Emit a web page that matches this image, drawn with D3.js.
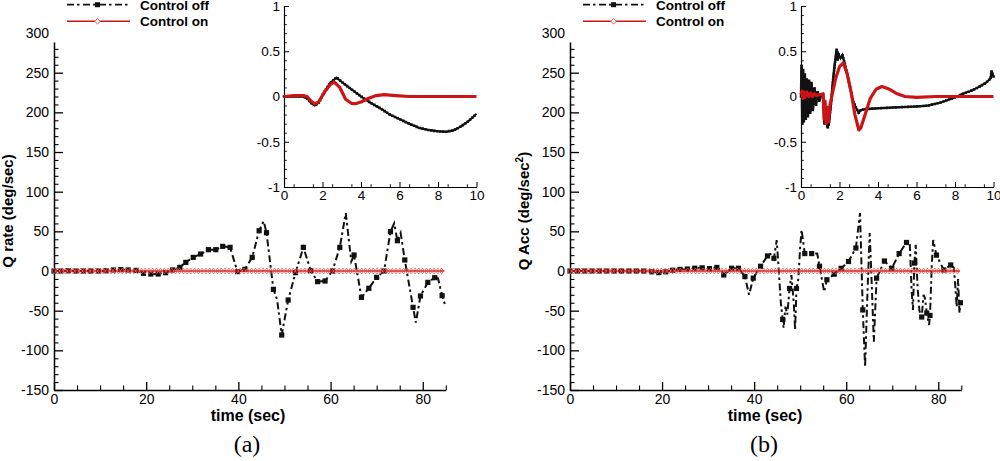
<!DOCTYPE html>
<html>
<head>
<meta charset="utf-8">
<script src="https://cdn.jsdelivr.net/npm/d3@7"></script>
<style>
  body { margin: 0; background: #fff; }
  text { fill: #000; }
</style>
</head>
<body>
<svg id="chart" width="1000" height="461"></svg>
<script>
// ---- data ----
var timeTicks = [0, 20, 40, 60, 80];
var mainYTicks = [-150, -100, -50, 0, 50, 100, 150, 200, 250, 300];
var insetXTicks = [0, 2, 4, 6, 8, 10];
var insetYTicks = [-1, -0.5, 0, 0.5, 1];
var legendLabels = ["Control off", "Control on"];
var panelTags = ["(a)", "(b)"];

// [time, value, marker shown]
var qRateOff = [[0,0,1],[1.5,0,1],[3.1,0.3,1],[4.8,0,1],[6.4,0,1],[8.0,0,1],[9.7,0,1],[11.3,0.3,1],
  [12.9,1.3,1],[14.5,1.7,1],[16.1,1.3,1],[17.8,0.8,1],[19.4,-2.9,1],[21.0,-3.8,1],[22.6,-3.8,1],
  [24.2,-2.1,1],[25.7,1.3,1],[27.3,4.6,1],[28.6,10.9,1],[30.2,17.2,1],[31.8,21.4,1],[33.5,26.9,1],
  [35.1,26.9,1],[36.6,31.1,1],[38.2,29.8,1],[39.8,-0.8,1],[41.4,2.1,1],[43.0,17.2,1],[44.5,50.8,1],
  [45.5,63,0],[46.1,48.3,1],[47.6,-23.1,1],[48.4,-36,0],[49.4,-80.7,1],[50.8,-36.6,1],[52.4,-2.1,1],
  [54.1,29.8,1],[55.7,0.5,1],[57.2,-13.4,1],[58.8,-12.6,1],[60.4,0,1],[62.0,29.8,1],[63.3,73,0],
  [64.5,12,0],[65.1,20.2,1],[66.7,-33.2,1],[68.3,-21.8,1],[70.0,-8,1],[71.6,0,1],[73.0,49.6,1],
  [73.8,60,0],[74.5,38.2,1],[75.2,48,0],[76.1,13.9,1],[77.9,-45.8,1],[78.5,-65,0],[79.5,-31.5,1],
  [81.1,-14.3,1],[82.6,-8.4,1],[83.3,-9,0],[84.2,-31.1,1],[84.8,-42,0]];
var qRateOn = [[0,0],[84.7,0]];

var qAccOff = [[0,0,1],[1.6,0,1],[3.2,0,1],[4.8,0,1],[6.4,0,1],[8.0,0,1],[9.6,0,1],[11.2,0,1],
  [12.8,0,1],[14.4,0,1],[16.0,0,1],[17.7,-1,1],[19.3,-2,1],[20.8,-1,1],[22.3,1,1],[23.9,2,1],
  [25.5,2.5,1],[27.1,3.5,1],[28.7,4,1],[30.3,3,1],[31.9,4.5,1],[33.0,0,0],[33.4,-5,1],[35.1,3.5,1],
  [36.6,3.5,1],[38.0,-7,1],[38.9,-30,0],[39.8,-9,1],[41.4,6,1],[42.9,19,1],[43.8,22,0],[44.3,16,1],
  [44.9,39,0],[45.3,5,0],[45.8,-40,0],[46.2,-61,1],[46.4,-72,0],[46.8,-45,0],[47.2,-55,0],[47.7,-22,1],
  [48.1,-5,0],[48.6,-40,0],[48.9,-74,0],[49.2,-22,1],[49.6,-10,0],[50.0,30,0],[50.3,52,0],[51.0,22,1],
  [52.5,22,1],[53.7,22,0],[54.2,6,1],[55.2,-26,0],[55.8,-11,1],[57.4,-4,1],[58.9,3.4,1],[60.5,12,1],
  [62.1,29,1],[63.0,73,0],[63.6,-49,1],[64.1,-121,0],[64.6,-30,0],[65.1,48,0],[65.5,-10,0],[66.0,-89,0],
  [66.6,-9,1],[68.3,12.6,1],[69.9,3.4,1],[71.5,22,1],[73.1,36,1],[73.8,36,0],[74.2,-24,0],[74.5,-49,0],
  [74.8,10,1],[75.1,33,0],[75.5,-20,0],[75.9,-50,0],[76.4,-58,1],[76.8,-30,0],[77.1,-34,0],[77.5,-53,1],
  [78.0,-68,0],[78.2,-56,1],[78.6,10,0],[78.9,39,0],[79.6,20,1],[81.2,1.3,1],[82.7,7.6,1],[83.4,4,0],
  [83.7,-20,0],[84.0,-45,0],[84.3,-10,0],[84.6,-53,0],[84.8,-40,1]];
var qAccOn = [[0,0],[84.7,0]];

// inset (first 10 s)
var qRateOffInset = [[0,0],[0.5,0],[1.0,0],[1.2,-0.02],[1.4,-0.07],[1.6,-0.1],[1.8,-0.07],[2.1,0.05],
  [2.4,0.15],[2.73,0.21],[3.0,0.16],[3.5,0.08],[4.0,0.0],[4.5,-0.07],[5.0,-0.13],[5.5,-0.2],[6.0,-0.25],
  [6.5,-0.3],[7.0,-0.345],[7.5,-0.37],[8.0,-0.385],[8.4,-0.39],[8.8,-0.375],[9.2,-0.33],[9.6,-0.27],[10,-0.19]];
var qRateOnInset = [[0,0],[0.5,0.01],[1.0,0.01],[1.2,0],[1.4,-0.05],[1.6,-0.08],[1.8,-0.06],[2.1,0.05],
  [2.4,0.13],[2.6,0.16],[2.9,0.1],[3.2,-0.03],[3.5,-0.075],[3.7,-0.08],[4.0,-0.06],[4.4,-0.02],[4.8,0.01],
  [5.2,0.02],[5.8,0.01],[6.5,0],[10,0]];
var qAccOffInset = [[0,0],[0.03,0.35],[0.07,-0.3],[0.11,0.3],[0.15,-0.28],[0.2,0.25],[0.25,-0.25],[0.3,0.2],
  [0.36,-0.22],[0.42,0.18],[0.48,-0.18],[0.55,0.15],[0.62,-0.15],[0.7,0.1],[0.78,-0.1],[0.86,0.06],
  [0.95,-0.05],[1.05,0.02],[1.15,0],[1.22,-0.3],[1.3,-0.2],[1.38,-0.35],[1.45,-0.3],[1.55,-0.1],
  [1.65,0.15],[1.75,0.35],[1.85,0.52],[1.9,0.4],[1.95,0.47],[2.05,0.42],[2.15,0.46],[2.25,0.38],
  [2.4,0.25],[2.55,0.1],[2.7,-0.05],[2.85,-0.12],[3.0,-0.18],[3.1,-0.15],[3.3,-0.14],[4.0,-0.13],
  [5.0,-0.12],[6.0,-0.11],[6.6,-0.1],[7.2,-0.07],[7.6,-0.04],[8.0,-0.01],[8.4,0.03],[8.8,0.06],
  [9.2,0.1],[9.6,0.15],[9.85,0.2],[9.9,0.28],[10,0.22]];
var qAccOnInset = [[0,0.02],[0.05,0.06],[0.1,-0.02],[0.15,0.05],[0.2,-0.01],[0.3,0.05],[0.4,0.0],
  [0.5,0.04],[0.6,0.0],[0.7,0.03],[0.8,0.01],[0.9,0.02],[1.05,0.02],[1.15,0.03],[1.2,-0.25],[1.25,-0.05],
  [1.3,-0.3],[1.37,-0.12],[1.42,-0.28],[1.5,-0.1],[1.6,0.0],[1.8,0.2],[2.0,0.33],[2.2,0.37],[2.4,0.25],
  [2.6,0.05],[2.8,-0.2],[3.0,-0.37],[3.1,-0.35],[3.3,-0.22],[3.6,-0.02],[3.9,0.08],[4.2,0.11],[4.6,0.08],
  [5.0,0.03],[5.4,0.0],[6.0,-0.01],[7.0,0],[8.0,0],[10,0]];

// ---- drawing ----
var svg = d3.select("#chart");
var sans = "'Liberation Sans', Arial, Helvetica, sans-serif";
var RED = "#cc1414", PINK = "#ee5a5a";
var DASHDOT = "7,3,2.5,3.5";

// points spaced evenly along a drawn path (symbol skipping style)
function along(node, step) {
  var L = node.getTotalLength(), pts = [];
  for (var s = 0; s <= L + 0.01; s += step) {
    var p = node.getPointAtLength(Math.min(s, L));
    pts.push([p.x, p.y]);
  }
  return pts;
}
function diamond(x, y, w, h) {
  return "M" + x + "," + (y - h) + "L" + (x + w) + "," + y + "L" + x + "," + (y + h) + "L" + (x - w) + "," + y + "Z";
}

function styleAxis(g, size) {
  g.attr("font-family", sans).attr("font-size", size);
  g.selectAll("line").attr("stroke", "#000").attr("stroke-width", 1.3);
  g.select(".domain").attr("stroke", "#000").attr("stroke-width", 1.5);
}

function drawPanel(o) {
  var g = svg.append("g");

  // main scales
  var x = d3.scaleLinear().domain([0, 85]).range([o.ax, o.axEnd]);
  var y = d3.scaleLinear().domain([-150, 288.7]).range([390, 42]);

  var gy = g.append("g").attr("transform", "translate(" + o.ax + ",0)")
    .call(d3.axisLeft(y).tickValues(mainYTicks).tickSize(-9).tickSizeOuter(0).tickPadding(5)
      .tickFormat(function(d){ return String(d); }));
  styleAxis(gy, 14);
  gy.selectAll(".tick").filter(function(d){ return d > 288.7; }).select("line").remove();
  var gym = g.append("g").attr("transform", "translate(" + o.ax + ",0)")
    .call(d3.axisLeft(y).tickValues(d3.range(-140, 290, 10).filter(function(v){ return v % 50 !== 0; }))
      .tickSize(-4.5).tickFormat(""));
  gym.select(".domain").remove();
  gym.selectAll("line").attr("stroke", "#000").attr("stroke-width", 1.1);

  var gx = g.append("g").attr("transform", "translate(0,390)")
    .call(d3.axisBottom(x).tickValues(timeTicks).tickSize(-8).tickSizeOuter(0).tickPadding(4));
  styleAxis(gx, 14);
  var gxm = g.append("g").attr("transform", "translate(0,390)")
    .call(d3.axisBottom(x).tickValues(d3.range(5, 86, 5).filter(function(v){ return v % 20 !== 0; }))
      .tickSize(-4.5).tickFormat(""));
  gxm.select(".domain").remove();
  gxm.selectAll("line").attr("stroke", "#000").attr("stroke-width", 1.1);

  // control off: dash-dot with squares
  var line = d3.line().x(function(d){ return x(d[0]); }).y(function(d){ return y(d[1]); });
  g.append("path").datum(o.off).attr("d", line).attr("fill", "none")
    .attr("stroke", "#111").attr("stroke-width", 2).attr("stroke-dasharray", DASHDOT);
  g.selectAll("rect.m").data(o.off.filter(function(d){ return d[2]; })).enter().append("rect")
    .attr("x", function(d){ return x(d[0]) - 2.6; }).attr("y", function(d){ return y(d[1]) - 2.6; })
    .attr("width", 5.2).attr("height", 5.2).attr("fill", "#111");

  // control on: red line with hollow diamonds
  var onPath = g.append("path").datum(o.on).attr("d", line).attr("fill", "none")
    .attr("stroke", RED).attr("stroke-width", 1.6);
  g.append("path").attr("fill", "none").attr("stroke", PINK).attr("stroke-width", 0.8)
    .attr("d", along(onPath.node(), 3.8).map(function(p){ return diamond(p[0], p[1], 2.1, 2.9); }).join(""));

  // axis titles
  var yt = g.append("text")
    .attr("transform", "translate(" + (o.ax - 41) + ",211) rotate(-90)")
    .attr("text-anchor", "middle").attr("font-family", sans).attr("font-weight", "bold").attr("font-size", 15);
  o.ylabel(yt);
  g.append("text").attr("x", o.titleX).attr("y", 421).attr("text-anchor", "middle")
    .attr("font-family", sans).attr("font-weight", "bold").attr("font-size", 16).text("time (sec)");
  g.append("text").attr("x", o.tagX).attr("y", 452).attr("text-anchor", "middle")
    .attr("font-family", "'Liberation Serif', 'Times New Roman', serif").attr("font-size", 24).text(o.tag);

  // legend
  var lg = g.append("g");
  lg.append("line").attr("x1", o.legX).attr("x2", o.legX + 63).attr("y1", 4.7).attr("y2", 4.7)
    .attr("stroke", "#111").attr("stroke-width", 1.8).attr("stroke-dasharray", DASHDOT);
  lg.append("rect").attr("x", o.legX + 30.5 - 2.5).attr("y", 2.2).attr("width", 5).attr("height", 5).attr("fill", "#111");
  lg.append("line").attr("x1", o.legX).attr("x2", o.legX + 63).attr("y1", 21.3).attr("y2", 21.3)
    .attr("stroke", RED).attr("stroke-width", 1.6);
  lg.append("path").attr("d", diamond(o.legX + 30.5, 21.3, 2.6, 2.9)).attr("fill", "#fff")
    .attr("stroke", PINK).attr("stroke-width", 0.9);
  lg.selectAll("text").data(legendLabels).enter().append("text")
    .attr("x", o.legX + 73).attr("y", function(d, i){ return 9.7 + i * 16.3; })
    .attr("font-family", sans).attr("font-weight", "bold").attr("font-size", 13.5).text(function(d){ return d; });

  // inset
  var ix = d3.scaleLinear().domain([0, 10]).range([o.ix, o.ix + 192.5]);
  var iy = d3.scaleLinear().domain([-1, 1]).range([187, 6]);
  var giy = g.append("g").attr("transform", "translate(" + o.ix + ",0)")
    .call(d3.axisLeft(iy).tickValues(insetYTicks).tickSize(-5).tickSizeOuter(0).tickPadding(4)
      .tickFormat(function(d){ return String(d); }));
  styleAxis(giy, 13.5);
  giy.selectAll("line").attr("stroke-width", 1);
  giy.select(".domain").attr("stroke-width", 1.2);
  var giym = g.append("g").attr("transform", "translate(" + o.ix + ",0)")
    .call(d3.axisLeft(iy).tickValues(d3.range(-9, 10).filter(function(v){ return v % 5 !== 0; }).map(function(v){ return v / 10; }))
      .tickSize(-2.8).tickFormat(""));
  giym.select(".domain").remove();
  giym.selectAll("line").attr("stroke", "#000").attr("stroke-width", 0.9);
  var gix = g.append("g").attr("transform", "translate(0,187)")
    .call(d3.axisBottom(ix).tickValues(insetXTicks).tickSize(-5).tickSizeOuter(0).tickPadding(3));
  styleAxis(gix, 13.5);
  gix.selectAll("line").attr("stroke-width", 1);
  gix.select(".domain").attr("stroke-width", 1.2);
  var gixm = g.append("g").attr("transform", "translate(0,187)")
    .call(d3.axisBottom(ix).tickValues(d3.range(1, 20, 2).map(function(v){ return v / 2; }))
      .tickSize(-2.8).tickFormat(""));
  gixm.select(".domain").remove();
  gixm.selectAll("line").attr("stroke", "#000").attr("stroke-width", 0.9);

  var iline = d3.line().x(function(d){ return ix(d[0]); }).y(function(d){ return iy(d[1]); });
  var offPath = g.append("path").datum(o.offInset).attr("d", iline).attr("fill", "none")
    .attr("stroke", "#111").attr("stroke-width", 2);
  g.append("path").attr("fill", "#111")
    .attr("d", along(offPath.node(), 3).map(function(p){
      return "M" + (p[0] - 1.3) + "," + (p[1] - 1.3) + "h2.6v2.6h-2.6Z"; }).join(""));
  g.append("path").datum(o.onInset).attr("d", iline).attr("fill", "none")
    .attr("stroke", RED).attr("stroke-width", 3.2).attr("stroke-linejoin", "round");
}

drawPanel({
  ax: 54, axEnd: 445.8, ix: 284, legX: 67, titleX: 248, tagX: 247, tag: panelTags[0],
  off: qRateOff, on: qRateOn, offInset: qRateOffInset, onInset: qRateOnInset,
  ylabel: function(t){ t.text("Q rate (deg/sec)"); }
});
drawPanel({
  ax: 570, axEnd: 961.3, ix: 801, legX: 583, titleX: 765, tagX: 764, tag: panelTags[1],
  off: qAccOff, on: qAccOn, offInset: qAccOffInset, onInset: qAccOnInset,
  ylabel: function(t){
    t.append("tspan").text("Q Acc (deg/sec");
    t.append("tspan").attr("font-size", 10).attr("dy", -6).text("2");
    t.append("tspan").attr("dy", 6).text(")");
  }
});
</script>
</body>
</html>
